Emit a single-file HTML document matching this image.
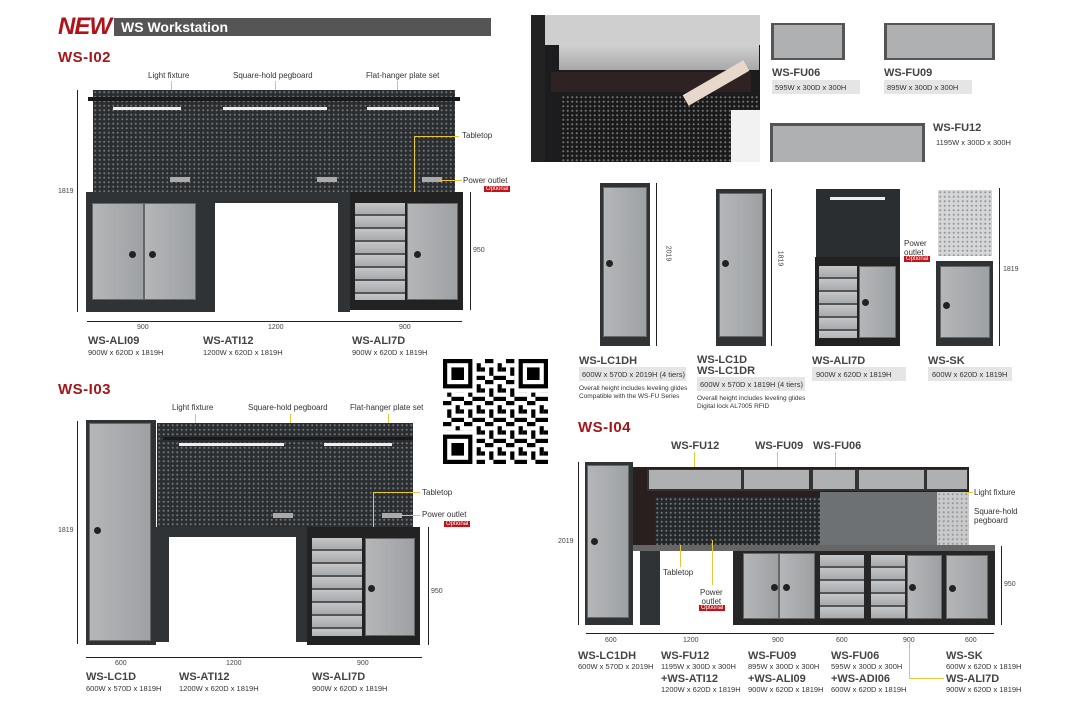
<!DOCTYPE html>
<html><head><meta charset="utf-8"><style>
*{margin:0;padding:0;box-sizing:border-box}
body{width:1081px;height:713px;background:#fff;position:relative;overflow:hidden;font-family:"Liberation Sans",sans-serif;color:#333}
div,span{position:absolute}
.red{color:#a3161c;font-weight:bold;font-size:15px;letter-spacing:0.5px}
.nm{font-weight:bold;font-size:11px;color:#444;white-space:nowrap}
.sp{font-size:7.5px;color:#333;white-space:nowrap}
.lb{font-size:8px;color:#333;white-space:nowrap}
.dim{font-size:7px;color:#444}
.peg{background:#2b2e31;background-image:radial-gradient(circle,#6f7275 0.9px,transparent 1.2px);background-size:4.5px 4.5px}
.cab{background:#2f3336}
.door{background:linear-gradient(90deg,#b4b6b8,#9ea1a4);border:1px solid #666}
.drw{background:repeating-linear-gradient(180deg,#c3c5c7 0,#a8abad 11px,#555 11px,#555 13px)}
.lk{width:7px;height:7px;border-radius:50%;background:#222}
.light{background:#eee;height:3px}
.hl{background:#e8c53a}
.vl{background:#222;width:1px}
.hline{background:#222;height:1px}
.opt{background:#c0141b;color:#fff;font-size:6px;padding:0 2px}
.sgray{background:#e5e5e5}
</style></head><body>

<!-- header -->
<div style="left:58px;top:13px;font-size:24px;font-weight:bold;color:#b01219;letter-spacing:-1px;font-style:italic">NEW</div>
<div style="left:114px;top:18px;width:377px;height:18px;background:#555"></div>
<div style="left:121px;top:19px;font-size:14px;font-weight:bold;color:#fff">WS Workstation</div>

<!-- WS-I02 -->
<div class="red" style="left:58px;top:49px">WS-I02</div>
<div class="lb" style="left:148px;top:71px">Light fixture</div>
<div class="lb" style="left:233px;top:71px">Square-hold pegboard</div>
<div class="lb" style="left:366px;top:71px">Flat-hanger plate set</div>
<div class="hl" style="left:171px;top:81px;width:1px;height:20px"></div>
<div class="hl" style="left:275px;top:81px;width:1px;height:35px"></div>
<div class="hl" style="left:397px;top:81px;width:1px;height:15px"></div>
<div class="peg" style="left:93px;top:90px;width:362px;height:102px"></div>
<div style="left:88px;top:97px;width:372px;height:4px;background:#1a1a1a"></div>
<div class="light" style="left:113px;top:107px;width:68px"></div>
<div class="light" style="left:223px;top:107px;width:104px"></div>
<div class="light" style="left:367px;top:107px;width:72px"></div>
<div style="left:170px;top:177px;width:20px;height:5px;background:#aaa"></div>
<div style="left:317px;top:177px;width:20px;height:5px;background:#aaa"></div>
<div style="left:422px;top:177px;width:20px;height:5px;background:#aaa"></div>
<div class="hl" style="left:414px;top:136px;width:45px;height:1px"></div>
<div class="hl" style="left:414px;top:136px;width:1px;height:56px"></div>
<div class="lb" style="left:462px;top:131px">Tabletop</div>
<div class="hl" style="left:440px;top:180px;width:22px;height:1px"></div>
<div class="lb" style="left:463px;top:176px">Power outlet</div>
<div class="opt" style="left:484px;top:186px">Optional</div>
<div class="cab" style="left:86px;top:192px;width:117px;height:120px"></div>
<div class="door" style="left:92px;top:203px;width:52px;height:97px"></div>
<div class="door" style="left:144px;top:203px;width:52px;height:97px"></div>
<div class="lk" style="left:129px;top:251px"></div><div class="lk" style="left:149px;top:251px"></div>
<div class="cab" style="left:203px;top:192px;width:147px;height:11px"></div>
<div class="cab" style="left:203px;top:192px;width:12px;height:120px"></div>
<div class="cab" style="left:338px;top:192px;width:12px;height:120px"></div>
<div class="cab" style="left:350px;top:192px;width:113px;height:118px;background:#222"></div>
<div class="drw" style="left:355px;top:203px;width:50px;height:97px"></div>
<div class="door" style="left:407px;top:203px;width:51px;height:97px"></div>
<div class="lk" style="left:414px;top:251px"></div>
<div class="vl" style="left:77px;top:90px;height:222px"></div>
<div class="dim" style="left:58px;top:188px">1819</div>
<div class="vl" style="left:470px;top:192px;height:118px"></div>
<div class="dim" style="left:473px;top:247px">950</div>
<div class="hline" style="left:87px;top:321px;width:375px"></div>
<div class="dim" style="left:137px;top:324px">900</div>
<div class="dim" style="left:268px;top:324px">1200</div>
<div class="dim" style="left:399px;top:324px">900</div>
<div class="nm" style="left:88px;top:335px">WS-ALI09</div>
<div class="sp" style="left:88px;top:348px">900W x 620D x 1819H</div>
<div class="nm" style="left:203px;top:335px">WS-ATI12</div>
<div class="sp" style="left:203px;top:348px">1200W x 620D x 1819H</div>
<div class="nm" style="left:352px;top:335px">WS-ALI7D</div>
<div class="sp" style="left:352px;top:348px">900W x 620D x 1819H</div>

<!-- WS-I03 -->
<div class="red" style="left:58px;top:381px">WS-I03</div>
<div class="lb" style="left:172px;top:403px">Light fixture</div>
<div class="lb" style="left:248px;top:403px">Square-hold pegboard</div>
<div class="lb" style="left:350px;top:403px">Flat-hanger plate set</div>
<div class="hl" style="left:195px;top:414px;width:1px;height:30px"></div>
<div class="hl" style="left:290px;top:414px;width:1px;height:45px"></div>
<div class="hl" style="left:388px;top:414px;width:1px;height:25px"></div>
<div class="cab" style="left:86px;top:420px;width:70px;height:225px"></div>
<div class="door" style="left:89px;top:423px;width:62px;height:218px"></div>
<div class="lk" style="left:94px;top:527px"></div>
<div class="peg" style="left:157px;top:423px;width:256px;height:104px"></div>
<div style="left:163px;top:437px;width:250px;height:3px;background:#1a1a1a"></div>
<div class="light" style="left:179px;top:443px;width:105px"></div>
<div class="light" style="left:324px;top:443px;width:68px"></div>
<div style="left:273px;top:513px;width:20px;height:5px;background:#aaa"></div>
<div style="left:382px;top:513px;width:20px;height:5px;background:#aaa"></div>
<div class="hl" style="left:373px;top:492px;width:47px;height:1px"></div>
<div class="hl" style="left:373px;top:492px;width:1px;height:35px"></div>
<div class="lb" style="left:422px;top:488px">Tabletop</div>
<div class="hl" style="left:400px;top:515px;width:20px;height:1px"></div>
<div class="lb" style="left:422px;top:510px">Power outlet</div>
<div class="opt" style="left:444px;top:521px">Optional</div>
<div class="cab" style="left:156px;top:527px;width:151px;height:10px"></div>
<div class="cab" style="left:156px;top:527px;width:13px;height:115px"></div>
<div class="cab" style="left:296px;top:527px;width:11px;height:115px"></div>
<div class="cab" style="left:307px;top:527px;width:113px;height:118px;background:#222"></div>
<div class="drw" style="left:312px;top:538px;width:50px;height:98px"></div>
<div class="door" style="left:365px;top:538px;width:50px;height:98px"></div>
<div class="lk" style="left:368px;top:585px"></div>
<div class="vl" style="left:77px;top:421px;height:223px"></div>
<div class="dim" style="left:58px;top:527px">1819</div>
<div class="vl" style="left:428px;top:527px;height:118px"></div>
<div class="dim" style="left:431px;top:588px">950</div>
<div class="hline" style="left:86px;top:657px;width:336px"></div>
<div class="dim" style="left:115px;top:660px">600</div>
<div class="dim" style="left:226px;top:660px">1200</div>
<div class="dim" style="left:357px;top:660px">900</div>
<div class="nm" style="left:86px;top:671px">WS-LC1D</div>
<div class="sp" style="left:86px;top:684px">600W x 570D x 1819H</div>
<div class="nm" style="left:179px;top:671px">WS-ATI12</div>
<div class="sp" style="left:179px;top:684px">1200W x 620D x 1819H</div>
<div class="nm" style="left:312px;top:671px">WS-ALI7D</div>
<div class="sp" style="left:312px;top:684px">900W x 620D x 1819H</div>

<!-- QR -->
<svg style="position:absolute;left:443px;top:359px" width="105" height="105" viewBox="0 0 25 25">
<defs><pattern id="q" width="5" height="5" patternUnits="userSpaceOnUse"><rect x="0" y="0" width="2" height="1"/><rect x="3" y="1" width="1" height="2"/><rect x="1" y="2" width="1" height="2"/><rect x="2" y="4" width="3" height="1"/><rect x="4" y="2" width="1" height="1"/></pattern></defs>
<rect width="25" height="25" fill="url(#q)"/>
<g fill="#fff"><rect x="0" y="0" width="8" height="8"/><rect x="17" y="0" width="8" height="8"/><rect x="0" y="17" width="8" height="8"/></g>
<g fill="none" stroke="#000"><rect x="0.5" y="0.5" width="6" height="6"/><rect x="18.5" y="0.5" width="6" height="6"/><rect x="0.5" y="18.5" width="6" height="6"/></g>
<rect x="2" y="2" width="3" height="3"/><rect x="20" y="2" width="3" height="3"/><rect x="2" y="20" width="3" height="3"/>
</svg>

<!-- photo -->
<div style="left:531px;top:15px;width:229px;height:147px;background:#1c1c1e;overflow:hidden">
 <div style="left:0;top:0;width:229px;height:30px;background:#cfcfcf"></div>
 <div style="left:0;top:0;width:14px;height:147px;background:#222"></div>
 <div style="left:28px;top:30px;width:200px;height:25px;background:linear-gradient(#d0d0d0,#a8a8a8)"></div>
 <div style="left:20px;top:57px;width:200px;height:20px;background:#2e2222"></div>
 <div class="peg" style="left:30px;top:80px;width:200px;height:67px;background-color:#1a1a1a"></div>
 <div style="left:150px;top:62px;width:70px;height:12px;background:#e8d8cc;transform:rotate(-30deg)"></div>
 <div style="left:200px;top:95px;width:29px;height:52px;background:#f2f2f2"></div>
</div>

<!-- FU boxes -->
<div style="left:771px;top:23px;width:74px;height:37px;background:#555"></div>
<div style="left:774px;top:25px;width:68px;height:33px;background:#aeb0b2"></div>
<div class="nm" style="left:772px;top:67px">WS-FU06</div>
<div class="sgray sp" style="left:772px;top:80px;width:88px;height:14px;padding:3px 3px">595W x 300D x 300H</div>
<div style="left:884px;top:23px;width:111px;height:37px;background:#555"></div>
<div style="left:887px;top:25px;width:105px;height:33px;background:#aeb0b2"></div>
<div class="nm" style="left:884px;top:67px">WS-FU09</div>
<div class="sgray sp" style="left:884px;top:80px;width:88px;height:14px;padding:3px 3px">895W x 300D x 300H</div>
<div style="left:770px;top:123px;width:155px;height:39px;background:#555"></div>
<div style="left:773px;top:126px;width:149px;height:36px;background:#aeb0b2"></div>
<div class="nm" style="left:933px;top:122px">WS-FU12</div>
<div class="sp" style="left:936px;top:138px">1195W x 300D x 300H</div>

<!-- individual products -->
<div class="cab" style="left:600px;top:183px;width:50px;height:163px"></div>
<div class="door" style="left:603px;top:187px;width:44px;height:150px"></div>
<div class="lk" style="left:606px;top:260px"></div>
<div class="vl" style="left:656px;top:183px;height:163px"></div>
<div class="dim" style="left:660px;top:250px;transform:rotate(90deg)">2019</div>
<div class="cab" style="left:716px;top:189px;width:50px;height:157px"></div>
<div class="door" style="left:719px;top:193px;width:44px;height:144px"></div>
<div class="lk" style="left:722px;top:260px"></div>
<div class="vl" style="left:771px;top:189px;height:157px"></div>
<div class="dim" style="left:772px;top:255px;transform:rotate(90deg)">1819</div>
<div class="cab" style="left:816px;top:189px;width:84px;height:68px;background:#2b2e31"></div>
<div class="light" style="left:830px;top:197px;width:55px"></div>
<div class="cab" style="left:815px;top:257px;width:85px;height:89px;background:#222"></div>
<div class="drw" style="left:819px;top:266px;width:38px;height:72px"></div>
<div class="door" style="left:859px;top:266px;width:37px;height:72px"></div>
<div class="lk" style="left:862px;top:299px"></div>
<div class="lb" style="left:904px;top:239px;line-height:9px">Power<br>outlet</div>
<div class="opt" style="left:904px;top:256px">Optional</div>
<div style="left:938px;top:190px;width:54px;height:66px;background:#d5d6d8;background-image:radial-gradient(circle,#999 0.9px,transparent 1.2px);background-size:4.5px 4.5px"></div>
<div class="cab" style="left:936px;top:261px;width:57px;height:85px"></div>
<div class="door" style="left:940px;top:266px;width:50px;height:72px"></div>
<div class="lk" style="left:943px;top:302px"></div>
<div class="vl" style="left:999px;top:188px;height:158px"></div>
<div class="dim" style="left:1003px;top:266px">1819</div>

<div class="nm" style="left:579px;top:355px">WS-LC1DH</div>
<div class="sgray sp" style="left:579px;top:367px;width:107px;height:14px;padding:3px 3px">600W x 570D x 2019H (4 tiers)</div>
<div class="sp" style="left:579px;top:385px;font-size:6.5px;line-height:8px">Overall height includes leveling glides<br>Compatible with the WS-FU Series</div>
<div class="nm" style="left:697px;top:355px;line-height:11px">WS-LC1D<br>WS-LC1DR</div>
<div class="sgray sp" style="left:697px;top:377px;width:108px;height:14px;padding:3px 3px">600W x 570D x 1819H (4 tiers)</div>
<div class="sp" style="left:697px;top:395px;font-size:6.5px;line-height:8px">Overall height includes leveling glides<br>Digital lock AL7005 RFID</div>
<div class="nm" style="left:812px;top:355px">WS-ALI7D</div>
<div class="sgray sp" style="left:812px;top:367px;width:94px;height:14px;padding:3px 4px">900W x 620D x 1819H</div>
<div class="nm" style="left:928px;top:355px">WS-SK</div>
<div class="sgray sp" style="left:928px;top:367px;width:84px;height:14px;padding:3px 4px">600W x 620D x 1819H</div>

<!-- WS-I04 -->
<div class="red" style="left:578px;top:419px">WS-I04</div>
<div class="nm" style="left:671px;top:440px">WS-FU12</div>
<div class="nm" style="left:755px;top:440px">WS-FU09</div>
<div class="nm" style="left:813px;top:440px">WS-FU06</div>
<div class="hl" style="left:694px;top:452px;width:1px;height:18px"></div>
<div class="hl" style="left:777px;top:452px;width:1px;height:18px"></div>
<div class="hl" style="left:835px;top:452px;width:1px;height:18px"></div>
<div class="cab" style="left:585px;top:462px;width:48px;height:163px"></div>
<div class="door" style="left:587px;top:465px;width:42px;height:153px"></div>
<div class="lk" style="left:591px;top:538px"></div>
<div class="cab" style="left:633px;top:467px;width:336px;height:80px;background:#2a1f1f"></div>
<div class="cab" style="left:647px;top:469px;width:321px;height:22px;background:#333"></div>
<div style="left:649px;top:470px;width:92px;height:19px;background:#aeb0b2"></div>
<div style="left:744px;top:470px;width:65px;height:19px;background:#aeb0b2"></div>
<div style="left:813px;top:470px;width:42px;height:19px;background:#aeb0b2"></div>
<div style="left:859px;top:470px;width:65px;height:19px;background:#aeb0b2"></div>
<div style="left:927px;top:470px;width:40px;height:19px;background:#aeb0b2"></div>
<div class="peg" style="left:655px;top:497px;width:165px;height:48px;background-color:#25282b"></div>
<div class="peg" style="left:820px;top:492px;width:148px;height:54px;background-color:#6e7174"></div>
<div style="left:937px;top:492px;width:32px;height:54px;background:#c9cacc;background-image:radial-gradient(circle,#999 0.9px,transparent 1.2px);background-size:4.5px 4.5px"></div>
<div style="left:633px;top:545px;width:362px;height:6px;background:#666"></div>
<div class="cab" style="left:640px;top:551px;width:20px;height:74px"></div>
<div class="cab" style="left:733px;top:551px;width:262px;height:74px;background:#262626"></div>
<div class="door" style="left:743px;top:553px;width:36px;height:66px"></div>
<div class="door" style="left:779px;top:553px;width:36px;height:66px"></div>
<div class="lk" style="left:771px;top:584px"></div><div class="lk" style="left:783px;top:584px"></div>
<div class="drw" style="left:820px;top:555px;width:44px;height:64px"></div>
<div class="drw" style="left:871px;top:555px;width:34px;height:64px"></div>
<div class="door" style="left:907px;top:555px;width:35px;height:64px"></div>
<div class="door" style="left:946px;top:555px;width:42px;height:64px"></div>
<div class="lk" style="left:909px;top:584px"></div><div class="lk" style="left:949px;top:585px"></div>
<div class="hl" style="left:965px;top:492px;width:8px;height:1px"></div>
<div class="lb" style="left:974px;top:488px">Light fixture</div>
<div class="lb" style="left:974px;top:507px;line-height:9px">Square-hold<br>pegboard</div>
<div class="hl" style="left:680px;top:545px;width:1px;height:22px"></div>
<div class="lb" style="left:663px;top:568px">Tabletop</div>
<div class="hl" style="left:712px;top:540px;width:1px;height:45px"></div>
<div class="lb" style="left:700px;top:588px;line-height:9px;text-align:center">Power<br>outlet</div>
<div class="opt" style="left:699px;top:605px">Optional</div>
<div class="vl" style="left:578px;top:462px;height:163px"></div>
<div class="dim" style="left:558px;top:538px">2019</div>
<div class="vl" style="left:1001px;top:546px;height:79px"></div>
<div class="dim" style="left:1004px;top:581px">950</div>
<div class="hline" style="left:586px;top:633px;width:408px"></div>
<div class="dim" style="left:605px;top:637px">600</div>
<div class="dim" style="left:683px;top:637px">1200</div>
<div class="dim" style="left:772px;top:637px">900</div>
<div class="dim" style="left:836px;top:637px">600</div>
<div class="dim" style="left:903px;top:637px">900</div>
<div class="dim" style="left:965px;top:637px">600</div>
<div class="nm" style="left:578px;top:650px">WS-LC1DH</div>
<div class="sp" style="left:578px;top:662px">600W x 570D x 2019H</div>
<div class="nm" style="left:661px;top:650px">WS-FU12</div>
<div class="sp" style="left:661px;top:662px">1195W x 300D x 300H</div>
<div class="nm" style="left:661px;top:673px">+WS-ATI12</div>
<div class="sp" style="left:661px;top:685px">1200W x 620D x 1819H</div>
<div class="nm" style="left:748px;top:650px">WS-FU09</div>
<div class="sp" style="left:748px;top:662px">895W x 300D x 300H</div>
<div class="nm" style="left:748px;top:673px">+WS-ALI09</div>
<div class="sp" style="left:748px;top:685px">900W x 620D x 1819H</div>
<div class="nm" style="left:831px;top:650px">WS-FU06</div>
<div class="sp" style="left:831px;top:662px">595W x 300D x 300H</div>
<div class="nm" style="left:831px;top:673px">+WS-ADI06</div>
<div class="sp" style="left:831px;top:685px">600W x 620D x 1819H</div>
<div class="nm" style="left:946px;top:650px">WS-SK</div>
<div class="sp" style="left:946px;top:662px">600W x 620D x 1819H</div>
<div class="hl" style="left:909px;top:640px;width:1px;height:38px"></div>
<div class="hl" style="left:909px;top:678px;width:35px;height:1px"></div>
<div class="nm" style="left:946px;top:673px">WS-ALI7D</div>
<div class="sp" style="left:946px;top:685px">900W x 620D x 1819H</div>
</body></html>
